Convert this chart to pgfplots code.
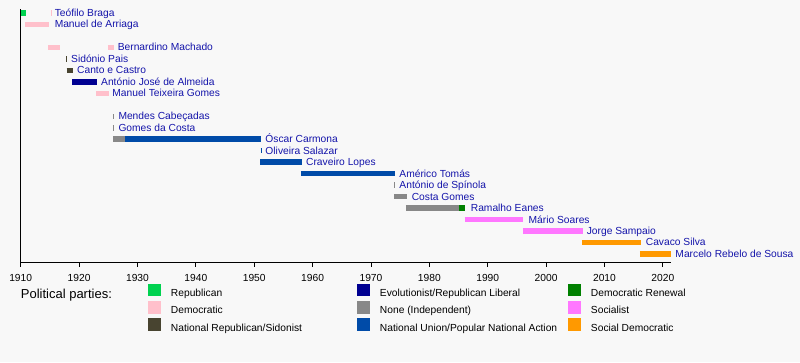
\documentclass[border=0pt]{standalone}
\usepackage{pgfplots}
\pgfplotsset{compat=1.18}
\usepackage{fontspec}
\setmainfont{Liberation Sans}
\definecolor{bgc}{RGB}{248,248,248}
\definecolor{cRep}{RGB}{0,210,80}
\definecolor{cDem}{RGB}{255,192,203}
\definecolor{cNRS}{RGB}{72,68,48}
\definecolor{cEvo}{RGB}{0,0,145}
\definecolor{cInd}{RGB}{136,136,136}
\definecolor{cNU}{RGB}{0,75,168}
\definecolor{cDR}{RGB}{0,128,0}
\definecolor{cSoc}{RGB}{255,119,255}
\definecolor{cSD}{RGB}{255,153,0}
\definecolor{cLink}{RGB}{20,20,170}
\newcommand{\lbl}{\fontsize{10.25bp}{12bp}\selectfont}
\newcommand{\ent}[2]{\hspace*{9.7bp}\makebox[#1][l]{#2}}
\tikzset{nm/.style={anchor=base west, inner sep=0pt, font=\lbl, text=cLink, yshift=-3.5bp}}
\pgfplotsset{
  bar/.style={#1, line width=5.5bp, line cap=butt, no marks, forget plot},
  sw/.style={legend image code/.code={\path[fill=#1, draw=none, line width=0pt] (0bp,-2.6bp) rectangle (13bp,9.8bp);}},
}
\begin{document}
\begin{tikzpicture}[x=1bp,y=1bp]
\useasboundingbox (0,0) rectangle (800,362);
\fill[bgc] (0,0) rectangle (800,362);
\node[anchor=base west, inner sep=0pt, font=\fontsize{13bp}{15bp}\selectfont] at (20.7,63.7) {Political parties:};
\begin{axis}[
  at={(20.7bp,100bp)}, anchor=south west,
  scale only axis, width=650.3bp, height=253bp,
  xmin=1910, xmax=2021.4, ymin=0.3, ymax=22.35,
  axis lines=left, axis line style={-, line width=1bp, black},
  ytick=\empty, xtick={1910,1920,...,2020},
  tick align=outside, major tick length=4.5bp,
  tick style={black, line width=0.8bp},
  xticklabel style={font=\lbl, inner sep=0pt, yshift=-8bp},
  /pgf/number format/1000 sep={},
  /pgf/number format/assume math mode=true,
  clip=false, unbounded coords=jump,
  legend columns=3, legend cell align=left,
  legend style={at={(axis description cs:0.1962,-0.0870)}, anchor=north west,
    draw=none, fill=none, inner sep=0pt, outer sep=0pt,
    row sep=2.3bp, column sep=0pt, font=\lbl,
    nodes={inner sep=0pt, text height=8bp, text depth=2bp}},
]
% Republican
\addplot[bar=cRep] coordinates {(1910.0,22) (1910.86,22)};
% Democratic
\addplot[bar=cDem] coordinates {(1915.24,22) (1915.41,22) (nan,nan)
  (1910.74,21) (1914.9,21) (nan,nan)
  (1914.73,19) (1916.73,19) (nan,nan)
  (1924.95,19) (1926.03,19) (nan,nan)
  (1922.9,15) (1925.2,15)};
% National Republican / Sidonist
\addplot[bar=cNRS] coordinates {(1917.8,18) (1917.97,18) (nan,nan)
  (1917.88,17) (1918.9,17)};
% Evolutionist / Republican Liberal
\addplot[bar=cEvo] coordinates {(1918.79,16) (1923.02,16)};
% None (Independent)
\addplot[bar=cInd] coordinates {(1925.8,13) (1925.97,13) (nan,nan)
  (1925.8,12) (1925.97,12) (nan,nan)
  (1925.86,11) (1927.87,11) (nan,nan)
  (1973.95,7) (1974.12,7) (nan,nan)
  (1974.0,6) (1976.1,6) (nan,nan)
  (1976.0,5) (1985.13,5)};
% National Union / Popular National Action
\addplot[bar=cNU] coordinates {(1927.87,11) (1951.17,11) (nan,nan)
  (1951.1,10) (1951.27,10) (nan,nan)
  (1951.0,9) (1958.13,9) (nan,nan)
  (1958.0,8) (1974.1,8)};
% Democratic Renewal
\addplot[bar=cDR] coordinates {(1985.13,5) (1986.1,5)};
% Socialist
\addplot[bar=cSoc] coordinates {(1986.1,4) (1996.06,4) (nan,nan)
  (1996.06,3) (2006.37,3)};
% Social Democratic
\addplot[bar=cSD] coordinates {(2006.14,2) (2016.25,2) (nan,nan)
  (2016.08,1) (2021.4,1)};

\addlegendimage{sw=cRep}
\addlegendentry{\ent{186.3bp}{Republican}}
\addlegendimage{sw=cEvo}
\addlegendentry{\ent{188.3bp}{Evolutionist/Republican Liberal}}
\addlegendimage{sw=cDR}
\addlegendentry{\ent{120bp}{Democratic Renewal}}
\addlegendimage{sw=cDem}
\addlegendentry{\ent{186.3bp}{Democratic}}
\addlegendimage{sw=cInd}
\addlegendentry{\ent{188.3bp}{None (Independent)}}
\addlegendimage{sw=cSoc}
\addlegendentry{\ent{120bp}{Socialist}}
\addlegendimage{sw=cNRS}
\addlegendentry{\ent{186.3bp}{National Republican/Sidonist}}
\addlegendimage{sw=cNU}
\addlegendentry{\ent{188.3bp}{National Union/Popular National Action}}
\addlegendimage{sw=cSD}
\addlegendentry{\ent{120bp}{Social Democratic}}

\node[nm] at (axis cs:1915.8,22) {Teófilo Braga};
\node[nm] at (axis cs:1915.8,21) {Manuel de Arriaga};
\node[nm] at (axis cs:1926.6,19) {Bernardino Machado};
\node[nm] at (axis cs:1918.62,18) {Sidónio Pais};
\node[nm] at (axis cs:1919.64,17) {Canto e Castro};
\node[nm] at (axis cs:1923.75,16) {António José de Almeida};
\node[nm] at (axis cs:1925.67,15) {Manuel Teixeira Gomes};
\node[nm] at (axis cs:1926.72,13) {Mendes Cabeçadas};
\node[nm] at (axis cs:1926.72,12) {Gomes da Costa};
\node[nm] at (axis cs:1951.9,11) {Óscar Carmona};
\node[nm] at (axis cs:1951.9,10) {Oliveira Salazar};
\node[nm] at (axis cs:1958.87,9) {Craveiro Lopes};
\node[nm] at (axis cs:1974.85,8) {Américo Tomás};
\node[nm] at (axis cs:1974.85,7) {António de Spínola};
\node[nm] at (axis cs:1976.97,6) {Costa Gomes};
\node[nm] at (axis cs:1987.08,5) {Ramalho Eanes};
\node[nm] at (axis cs:1996.98,4) {Mário Soares};
\node[nm] at (axis cs:2006.95,3) {Jorge Sampaio};
\node[nm] at (axis cs:2017.06,2) {Cavaco Silva};
\node[nm] at (axis cs:2022.13,1) {Marcelo Rebelo de Sousa};
\end{axis}
\end{tikzpicture}
\end{document}
